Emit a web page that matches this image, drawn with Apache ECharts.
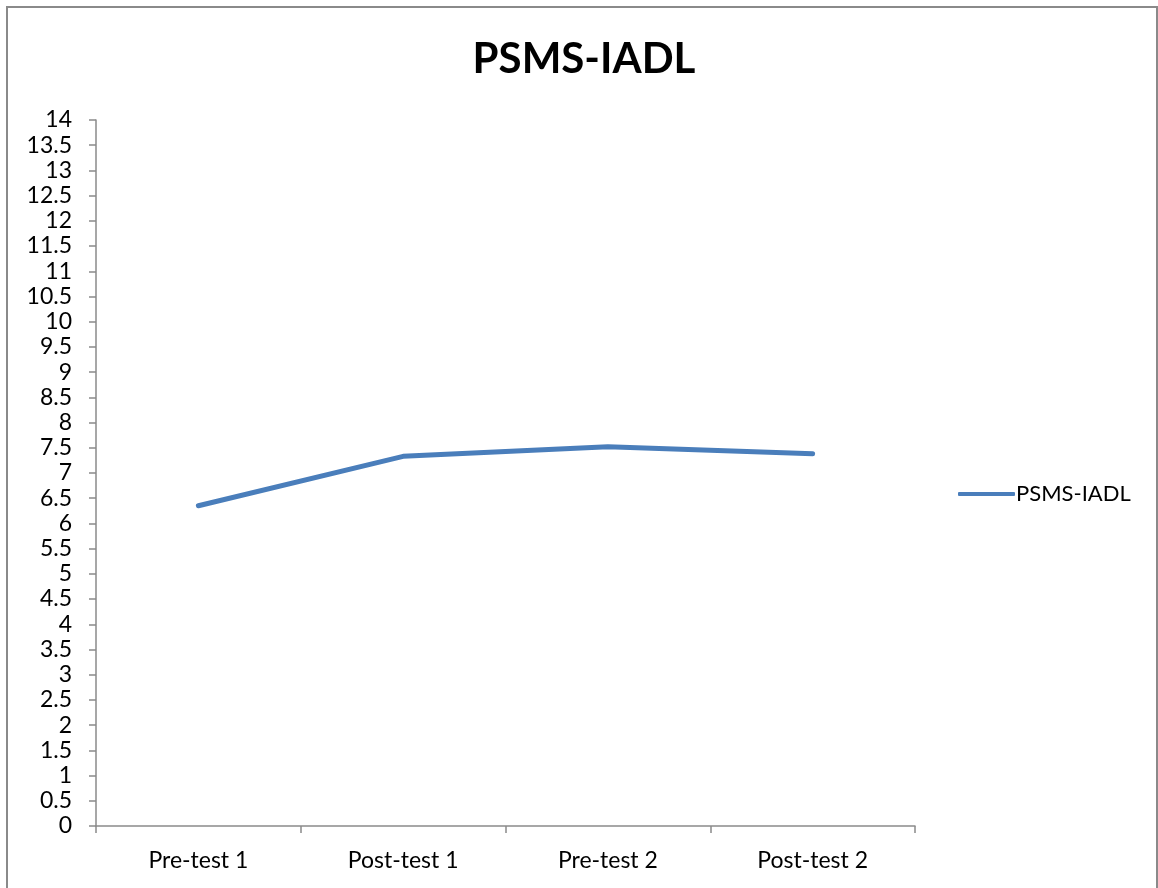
<!DOCTYPE html>
<html>
<head>
<meta charset="utf-8">
<script src="https://cdn.jsdelivr.net/npm/echarts@6/dist/echarts.min.js"></script>
<style>
html,body{margin:0;padding:0;background:#fff;}
#chart{width:1158px;height:888px;}
</style>
</head>
<body>
<div id="chart"></div>
<script>
const categories = ['Pre-test 1', 'Post-test 1', 'Pre-test 2', 'Post-test 2'];
const seriesName = 'PSMS-IADL';
const values = [6.35, 7.33, 7.52, 7.38];
const chartTitle = 'PSMS-IADL';

const FONT = 'Lato, Open Sans, sans-serif';
const chart = echarts.init(document.getElementById('chart'));
chart.setOption({
  backgroundColor: '#fff',
  animation: false,
  graphic: [{
    type: 'rect',
    shape: { x: 7, y: 7, width: 1150, height: 900 },
    style: { fill: 'none', stroke: '#8a8a8a', lineWidth: 2 },
    silent: true
  }],
  title: {
    text: chartTitle,
    left: 579, top: 33, textAlign: 'center',
    textStyle: { fontFamily: FONT, fontSize: 42, fontWeight: 'bold', color: '#000' }
  },
  legend: {
    data: [seriesName],
    left: 953, top: 478,
    itemWidth: 57, itemHeight: 4, itemGap: 0,
    icon: 'roundRect',
    textStyle: { fontFamily: FONT, fontSize: 22, color: '#000', padding: [0, 0, 0, -4] }
  },
  grid: { left: 96, top: 120, right: 243, bottom: 62, containLabel: false },
  xAxis: {
    type: 'category',
    data: categories,
    boundaryGap: true,
    axisLine: { lineStyle: { color: '#8a8a8a', width: 1.5 } },
    axisTick: { show: true, length: 7, inside: false, lineStyle: { color: '#8a8a8a', width: 1.5 } },
    axisLabel: { fontFamily: FONT, fontSize: 23, color: '#000', margin: 23 },
    splitLine: { show: false }
  },
  yAxis: {
    type: 'value',
    min: 0, max: 14, interval: 0.5,
    axisLine: { show: true, lineStyle: { color: '#8a8a8a', width: 1.5 } },
    axisTick: { show: true, length: 7, lineStyle: { color: '#8a8a8a', width: 1.5 } },
    axisLabel: { fontFamily: FONT, fontSize: 23, color: '#000', margin: 24 },
    splitLine: { show: false }
  },
  series: [{
    name: seriesName,
    type: 'line',
    data: values,
    symbol: 'none',
    lineStyle: { color: '#4a7ebb', width: 5, cap: 'round', join: 'round' },
    itemStyle: { color: '#4a7ebb' }
  }]
});
</script>
</body>
</html>
